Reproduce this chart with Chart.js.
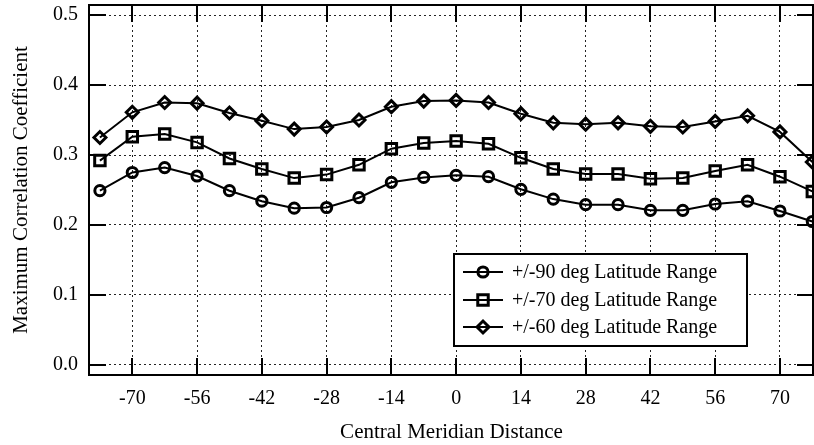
<!DOCTYPE html>
<html><head><meta charset="utf-8">
<script src="https://cdn.jsdelivr.net/npm/chart.js@4/dist/chart.umd.min.js"></script>
<style>html,body{margin:0;padding:0;background:#fff}#wrap{width:814px;height:445px}</style>
</head><body><div id="wrap"><canvas id="c" width="814" height="445"></canvas></div>
<script>
const meridianDistance = [-77,-70,-63,-56,-49,-42,-35,-28,-21,-14,-7,0,7,14,21,28,35,42,49,56,63,70,77];
const range90 = [0.249,0.275,0.282,0.270,0.249,0.234,0.224,0.225,0.239,0.261,0.268,0.271,0.269,0.251,0.237,0.229,0.229,0.221,0.221,0.230,0.234,0.220,0.205];
const range70 = [0.292,0.326,0.330,0.318,0.295,0.280,0.267,0.272,0.286,0.309,0.317,0.320,0.316,0.296,0.280,0.273,0.273,0.266,0.267,0.277,0.286,0.269,0.248];
const range60 = [0.325,0.361,0.375,0.374,0.360,0.349,0.337,0.340,0.350,0.369,0.377,0.378,0.375,0.359,0.346,0.344,0.346,0.341,0.340,0.348,0.356,0.333,0.290];
const seriesLabels = ['+/-90 deg Latitude Range','+/-70 deg Latitude Range','+/-60 deg Latitude Range'];
const xTickValues = [-70,-56,-42,-28,-14,0,14,28,42,56,70];
const yTickValues = [0.0,0.1,0.2,0.3,0.4,0.5];
const xTitle = 'Central Meridian Distance';
const yTitle = 'Maximum Correlation Coefficient';

const FONT = '"Liberation Serif", "Times New Roman", serif';
const toPts = arr => arr.map((v, i) => ({x: meridianDistance[i], y: v}));
const styles = [
  {pointStyle: 'circle', pointRadius: 5.1},
  {pointStyle: 'rect', pointRadius: 7.4},
  {pointStyle: 'rectRot', pointRadius: 6.0}
];
const seriesData = [range90, range70, range60];

const datasets = seriesData.map((d, i) => ({
  label: seriesLabels[i],
  data: toPts(d),
  borderColor: '#000',
  backgroundColor: 'rgba(0,0,0,0)',
  borderWidth: 2,
  pointStyle: styles[i].pointStyle,
  pointRadius: styles[i].pointRadius,
  pointHoverRadius: styles[i].pointRadius,
  pointBorderWidth: 3,
  pointBorderColor: '#000',
  pointBackgroundColor: 'rgba(0,0,0,0)',
  tension: 0
}));

const zeroPad = s => { s.paddingLeft = 0; s.paddingRight = 0; s.paddingTop = 0; s.paddingBottom = 0; };

const framePlugin = {
  id: 'frame',
  afterDatasetsDraw(chart) {
    const {ctx, chartArea: a, scales: {x, y}} = chart;
    ctx.save();
    ctx.strokeStyle = '#000';
    ctx.lineWidth = 2;
    const TL = 17;
    ctx.beginPath();
    xTickValues.forEach(v => {
      const px = Math.round(x.getPixelForValue(v));
      ctx.moveTo(px, a.bottom); ctx.lineTo(px, a.bottom - TL);
      ctx.moveTo(px, a.top); ctx.lineTo(px, a.top + TL);
    });
    yTickValues.forEach(v => {
      const py = Math.round(y.getPixelForValue(v));
      ctx.moveTo(a.left, py); ctx.lineTo(a.left + TL, py);
      ctx.moveTo(a.right, py); ctx.lineTo(a.right - TL, py);
    });
    ctx.stroke();
    ctx.strokeRect(a.left, a.top, a.right - a.left - 1, a.bottom - a.top);
    ctx.restore();
  },
  afterDraw(chart) {
    const {ctx, chartArea: a} = chart;
    const bx = a.left + 365, by = a.top + 249, bw = 293, bh = 92;
    ctx.save();
    ctx.fillStyle = '#fff';
    ctx.fillRect(bx, by, bw, bh);
    ctx.strokeStyle = '#000';
    ctx.lineWidth = 2;
    ctx.strokeRect(bx, by, bw, bh);
    const rows = [by + 18, by + 46, by + 73];
    chart.data.datasets.forEach((ds, i) => {
      const cy = rows[i];
      const x0 = bx + 9, x1 = bx + 49, cx = (x0 + x1) / 2;
      ctx.strokeStyle = '#000';
      ctx.lineWidth = 2;
      ctx.beginPath(); ctx.moveTo(x0, cy); ctx.lineTo(x1, cy); ctx.stroke();
      ctx.lineWidth = 3;
      ctx.fillStyle = 'rgba(0,0,0,0)';
      Chart.helpers.drawPoint(ctx, {pointStyle: ds.pointStyle, radius: ds.pointRadius, rotation: 0, borderWidth: 3}, cx, cy);
      ctx.fillStyle = '#000';
      ctx.font = '20px ' + FONT;
      ctx.textBaseline = 'middle';
      ctx.textAlign = 'left';
      ctx.fillText(ds.label, bx + 58, cy + 1);
    });
    ctx.restore();
  }
};

new Chart(document.getElementById('c'), {
  type: 'line',
  data: {datasets},
  options: {
    responsive: false,
    devicePixelRatio: 1,
    animation: false,
    layout: {autoPadding: false, padding: {top: 5, right: 0, left: 0, bottom: 0}},
    plugins: {legend: {display: false}, tooltip: {enabled: false}},
    scales: {
      x: {
        type: 'linear',
        min: -79.36,
        max: 77.36,
        afterBuildTicks: s => { s.ticks = xTickValues.map(v => ({value: v})); },
        afterFit: s => { s.height = 70; zeroPad(s); },
        grid: {color: '#222', lineWidth: 1, drawTicks: false},
        border: {display: false, dash: [2, 3]},
        ticks: {color: '#000', padding: 12, maxRotation: 0, autoSkip: false, font: {family: FONT, size: 20},
          callback: v => String(v)},
        title: {display: true, text: xTitle, color: '#000', font: {family: FONT, size: 21}, padding: {top: 0, bottom: 0}}
      },
      y: {
        type: 'linear',
        min: -0.01429,
        max: 0.51429,
        afterBuildTicks: s => { s.ticks = yTickValues.map(v => ({value: v})); },
        afterFit: s => { s.width = 89; zeroPad(s); },
        grid: {color: '#222', lineWidth: 1, drawTicks: false},
        border: {display: false, dash: [2, 3]},
        ticks: {color: '#000', padding: 11, font: {family: FONT, size: 20},
          callback: v => v.toFixed(1)},
        title: {display: true, text: yTitle, color: '#000', font: {family: FONT, size: 21}, padding: {top: 9, bottom: 0}}
      }
    }
  },
  plugins: [framePlugin]
});
</script>
</body></html>
